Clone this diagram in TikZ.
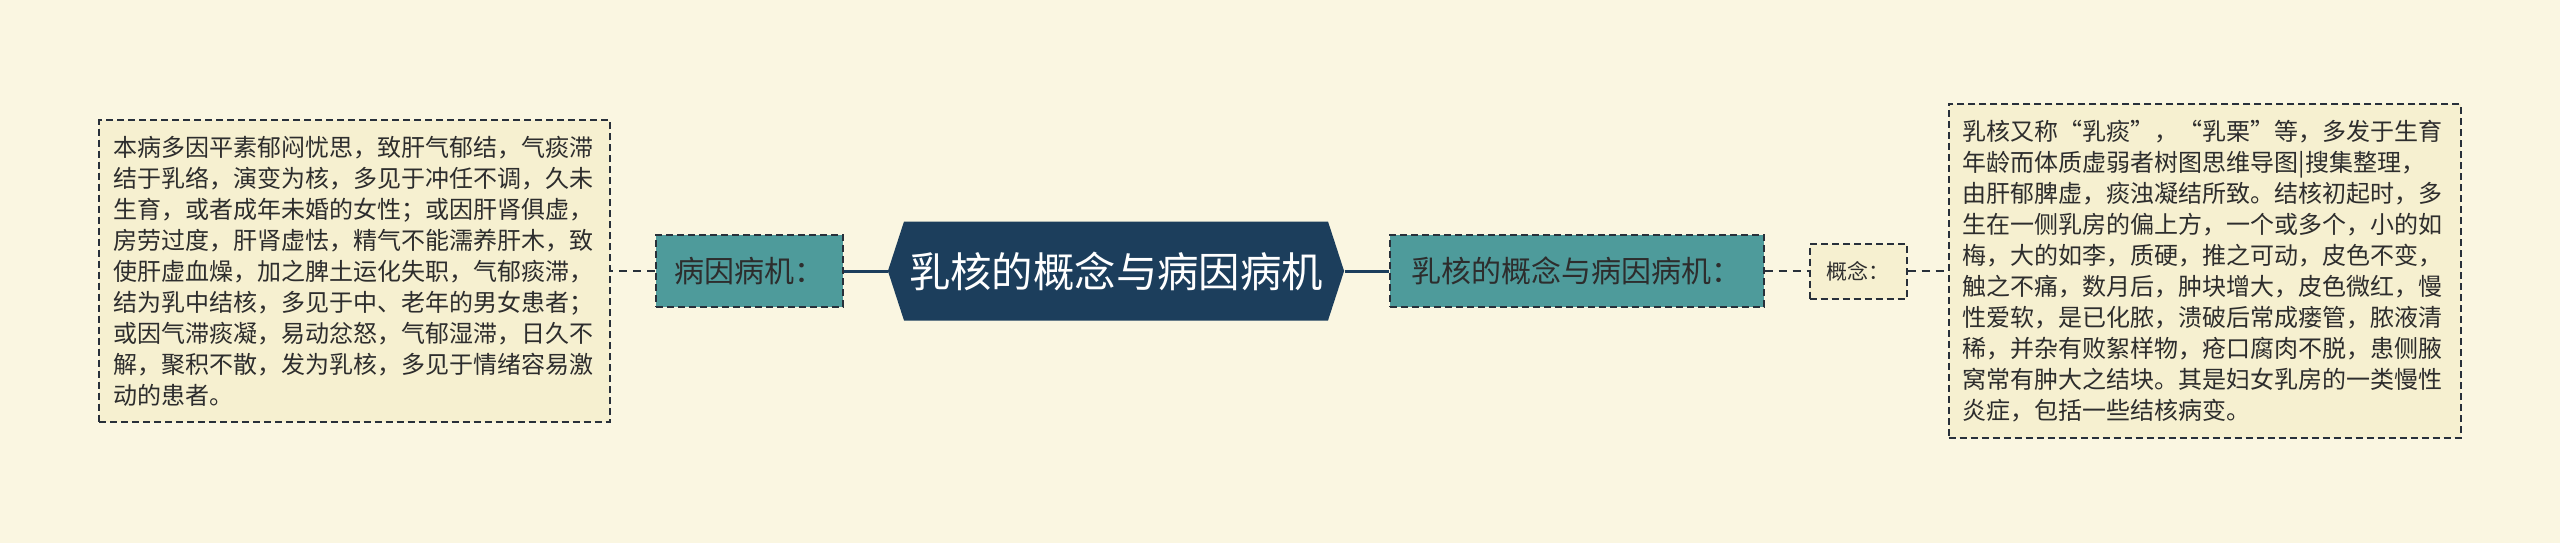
\documentclass[tikz,border=0pt]{standalone}
\usepackage{fontspec}
\setmainfont{Noto Sans CJK SC}
\newfontfamily\fullwidth[RawFeature=+fwid]{Noto Sans CJK SC}
\usetikzlibrary{positioning,shapes.symbols}
\definecolor{bgcream}{RGB}{250,246,225}
\definecolor{leafcream}{RGB}{246,240,208}
\definecolor{navy}{RGB}{28,62,92}
\definecolor{tealbox}{RGB}{78,155,155}
\definecolor{edgedark}{RGB}{40,48,58}
\definecolor{textdark}{RGB}{45,45,45}
\newcommand{\openq}{{\fullwidth “}}
\newcommand{\closeq}{{\fullwidth ”}}

\begin{document}
\begin{tikzpicture}[x=0.5pt,y=-0.5pt,
topic/.style={signal, signal to=west and east, signal pointer angle=144, fill=navy, text=white, font=\fontsize{20.7pt}{24pt}\selectfont, minimum height=49.5pt, inner xsep=2.5pt, inner ysep=0pt},
branch/.style={rectangle, fill=tealbox, draw=edgedark, line width=1pt, dash pattern=on 3.5pt off 2pt, text=textdark, font=\fontsize{15pt}{18pt}\selectfont, minimum height=36pt, inner xsep=8pt},
tagbox/.style={rectangle, fill=leafcream, draw=edgedark, line width=1pt, dash pattern=on 3.5pt off 2pt, text=textdark, font=\fontsize{10.5pt}{12pt}\selectfont, minimum height=27.5pt, minimum width=48.5pt},
leaf/.style={rectangle, fill=leafcream, draw=edgedark, line width=1pt, dash pattern=on 3.5pt off 2pt, text=textdark, font=\fontsize{12pt}{15.5pt}\selectfont, text width=241pt, align=left, inner xsep=7pt, inner ysep=8pt},
trunk/.style={draw=navy, line width=1.5pt},
twig/.style={draw=edgedark, line width=1pt, dash pattern=on 4pt off 3pt}
]
\fill[bgcream] (0,0) rectangle (2560,543);
\useasboundingbox (0,0) rectangle (2560,543);

\node[topic](topic) at (1116,271) {乳核的概念与病因病机};

\node[branch, minimum width=93.5pt](cause)[left=22pt of topic]{病因病机：};
\node[leaf](cause_text)[left=22pt of cause]{本病多因平素郁闷忧思，致肝气郁结，气痰滞\\结于乳络，演变为核，多见于冲任不调，久未\\生育，或者成年未婚的女性；或因肝肾俱虚，\\房劳过度，肝肾虚怯，精气不能濡养肝木，致\\使肝虚血燥，加之脾土运化失职，气郁痰滞，\\结为乳中结核，多见于中、老年的男女患者；\\或因气滞痰凝，易动忿怒，气郁湿滞，日久不\\解，聚积不散，发为乳核，多见于情绪容易激\\动的患者。};

\node[branch, minimum width=187pt](concept_head)[right=22pt of topic]{乳核的概念与病因病机：};
\node[tagbox](concept)[right=22pt of concept_head]{概念：};
\node[leaf, text width=242pt](concept_text)[right=20pt of concept]{乳核又称\openq 乳痰\closeq ，\openq 乳栗\closeq 等，多发于生育\\年龄而体质虚弱者树图思维导图|搜集整理，\\由肝郁脾虚，痰浊凝结所致。结核初起时，多\\生在一侧乳房的偏上方，一个或多个，小的如\\梅，大的如李，质硬，推之可动，皮色不变，\\触之不痛，数月后，肿块增大，皮色微红，慢\\性爱软，是已化脓，溃破后常成瘘管，脓液清\\稀，并杂有败絮样物，疮口腐肉不脱，患侧腋\\窝常有肿大之结块。其是妇女乳房的一类慢性\\炎症，包括一些结核病变。};

\draw[trunk] (topic.west) -- (cause.east);
\draw[trunk] (topic.east) -- (concept_head.west);
\draw[twig] (cause.west) -- (cause_text.east);
\draw[twig] (concept_head.east) -- (concept.west);
\draw[twig] (concept.east) -- (concept_text.west);
\end{tikzpicture}
\end{document}
